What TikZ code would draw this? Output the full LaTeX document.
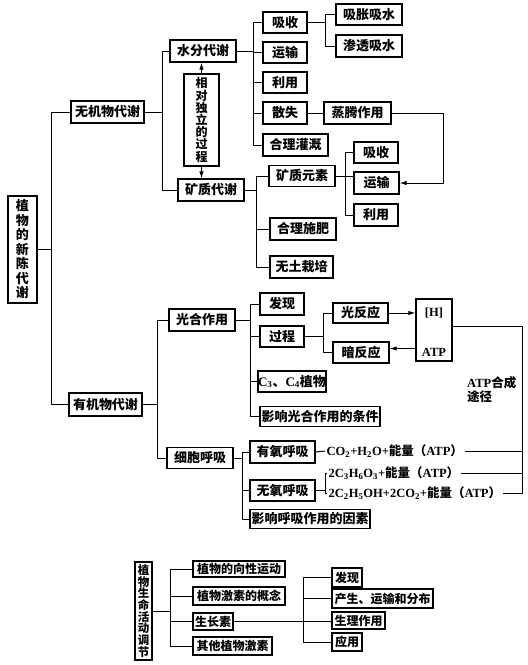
\documentclass[tikz,border=0pt]{standalone}
\usepackage{fontspec}
\setmainfont{Noto Sans CJK SC}
\newfontfamily\latin{Liberation Serif}
\usetikzlibrary{arrows.meta, positioning, calc}

\begin{document}
\begin{tikzpicture}[
    x=1pt, y=-1pt,
    font=\fontsize{13}{14.5}\selectfont\bfseries,
    kuang/.style={draw, line width=1.2pt, inner sep=0pt, minimum height=22pt,
                  align=center, font=\fontsize{13}{14.5}\selectfont\bfseries},
    xiao/.style={kuang, minimum height=18pt, font=\fontsize{12}{13}\selectfont\bfseries},
    gongshi/.style={inner sep=1.5pt, anchor=west, font=\fontsize{12.5}{14}\selectfont\bfseries},
    xian/.style={line width=1pt},
    jiantou/.style={-{Latex[length=7pt,width=4.5pt]}, line width=1pt}
  ]
    \useasboundingbox (0,0) rectangle (528,665);

    % 新陈代谢
    \node[kuang, minimum width=29pt, minimum height=107pt] (xcdx) at (22.5,249.5) {植\\物\\的\\新\\陈\\代\\谢};
    \node[kuang, minimum width=73pt] (wuji) at (107.5,112) {无机物代谢};
    \node[kuang, minimum width=73pt, minimum height=23pt] (youji) at (105.5,404.5) {有机物代谢};

    % 无机物代谢
    \node[kuang, minimum width=66pt] (shuifen) at (203,51) {水分代谢};
    \node[kuang, minimum width=66pt] (kuangzhi) at (211,190) {矿质代谢};
    \node[kuang, minimum width=35pt, minimum height=92pt,
          font=\fontsize{12}{12.2}\selectfont\bfseries] (xiangdui) at (201.5,120) {相\\对\\独\\立\\的\\过\\程};
    \node[kuang, minimum width=44pt, minimum height=21pt] (xishou) at (285,22.5) {吸收};
    \node[kuang, minimum width=44pt, minimum height=21pt] (yunshu) at (285,52.5) {运输};
    \node[kuang, minimum width=44pt, minimum height=21pt] (liyong) at (285,82.5) {利用};
    \node[kuang, minimum width=44pt] (sanshi) at (285,113) {散失};
    \node[kuang, minimum width=65pt] (guangai) at (295.5,145) {合理灌溉};
    \node[kuang, minimum width=66pt, minimum height=21pt] (xizhang) at (369,14.5) {吸胀吸水};
    \node[kuang, minimum width=66pt] (shentou) at (369,46) {渗透吸水};
    \node[kuang, minimum width=67pt] (zhengteng) at (357.5,113) {蒸腾作用};
    \node[kuang, minimum width=66pt, minimum height=21pt] (kzys) at (302,176) {矿质元素};
    \node[kuang, minimum width=44pt, minimum height=21pt] (xishou2) at (376,152.5) {吸收};
    \node[kuang, minimum width=45pt] (yunshu2) at (376.5,183) {运输};
    \node[kuang, minimum width=44pt] (liyong2) at (376,215) {利用};
    \node[kuang, minimum width=66pt] (shifei) at (303,229) {合理施肥};
    \node[kuang, minimum width=63pt] (wutu) at (301.5,267) {无土栽培};

    \draw[xian] (xcdx.east) -- ++(14,0) |- (wuji.west);
    \draw[xian] (xcdx.east) -- ++(14,0) |- (youji.west);
    \draw[xian] (wuji.east) -- ++(18,0) |- (shuifen.west);
    \draw[xian] (wuji.east) -- ++(18,0) |- (kuangzhi.west);
    \draw[jiantou] (xiangdui.north) -- (xiangdui.north |- shuifen.south);
    \draw[jiantou] (xiangdui.south) -- (xiangdui.south |- kuangzhi.north);
    \foreach \anak in {xishou, yunshu, liyong, sanshi, guangai}
      \draw[xian] (shuifen.east) -- ++(17,0) |- (\anak.west);
    \draw[xian] (xishou.east) -- ++(18,0) |- (xizhang.west);
    \draw[xian] (xishou.east) -- ++(18,0) |- (shentou.west);
    \draw[xian] (sanshi.east) -- (zhengteng.west);
    \foreach \anak in {kzys, shifei, wutu}
      \draw[xian] (kuangzhi.east) -- ++(12,0) |- (\anak.west);
    \draw[xian] (kzys.east) -- (kzys.east -| yunshu2.west);
    \draw[xian] (xishou2.west) -- ++(-8,0) |- (liyong2.west);
    \draw[jiantou] (zhengteng.east) -- ++(52,0) |- (yunshu2.east);

    % 有机物代谢
    \node[kuang, minimum width=66pt] (guanghe) at (202,320) {光合作用};
    \node[kuang, minimum width=66pt, minimum height=21pt] (xibao) at (200,458) {细胞呼吸};
    \node[kuang, minimum width=44pt] (faxian) at (282,304) {发现};
    \node[kuang, minimum width=44pt, minimum height=21pt] (guocheng) at (282,336.5) {过程};
    \node[kuang, minimum width=64pt, minimum height=21pt] (c3c4) at (292,381.5)
      {{\latin C\textsubscript{3}}、{\latin C\textsubscript{4}}植物};
    \node[kuang, minimum width=120pt, minimum height=20pt] (tiaojian) at (320,416.5) {影响光合作用的条件};
    \node[kuang, minimum width=55pt, minimum height=20pt] (guangfy) at (360.5,313) {光反应};
    \node[kuang, minimum width=56pt, minimum height=21pt] (anfy) at (361,352.5) {暗反应};
    \node[kuang, minimum width=36pt, minimum height=62pt] (hatp) at (434,330) {};
    \node[font=\fontsize{12.5}{14}\selectfont\bfseries\latin] (hh) at (434,313) {[H]};
    \node[font=\fontsize{12.5}{14}\selectfont\bfseries\latin] (atp) at (434,352) {ATP};
    \node[kuang, minimum width=65pt] (youyang) at (282.5,452) {有氧呼吸};
    \node[kuang, minimum width=65pt, minimum height=21pt] (wuyang) at (282.5,490.5) {无氧呼吸};
    \node[kuang, minimum width=120pt, minimum height=19pt] (yinsu) at (310,519) {影响呼吸作用的因素};
    \node[gongshi] (eq1) at (325,451)
      {{\latin CO\textsubscript{2}+H\textsubscript{2}O+}能量（{\latin ATP}）};
    \node[gongshi] (eq2) at (327,473)
      {{\latin 2C\textsubscript{3}H\textsubscript{6}O\textsubscript{3}+}能量（{\latin ATP}）};
    \node[gongshi] (eq3) at (327,493)
      {{\latin 2C\textsubscript{2}H\textsubscript{5}OH+2CO\textsubscript{2}+}能量（{\latin ATP}）};
    \node[align=left, anchor=west, inner sep=0pt,
          font=\fontsize{12.5}{14}\selectfont\bfseries] (tujing) at (467,390) {{\latin ATP}合成\\途径};
    \coordinate (ujung) at (522,493);

    \draw[xian] (youji.east) -- ++(15,0) |- (guanghe.west);
    \draw[xian] (youji.east) -- ++(15,0) |- (xibao.west);
    \foreach \anak in {faxian, guocheng, c3c4, tiaojian}
      \draw[xian] (guanghe.east) -- ++(15,0) |- (\anak.west);
    \draw[xian] (guocheng.east) -- ++(19,0) |- (guangfy.west);
    \draw[xian] (guocheng.east) -- ++(19,0) |- (anfy.west);
    \draw[jiantou] (guangfy.east) -- (guangfy.east -| hatp.west);
    \draw[jiantou] ([yshift=4pt]hatp.west |- anfy.east) -- ([yshift=4pt]anfy.east);
    \foreach \anak in {youyang, wuyang, yinsu}
      \draw[xian] (xibao.east) -- ++(9,0) |- (\anak.west);
    \draw[xian] (youyang.east) -- (eq1.west);
    \draw[xian] (wuyang.east) -- ++(10,0) |- (eq2.west);
    \draw[xian] (wuyang.east) -- ++(10,0) |- (eq3.west);
    \draw[xian] ([yshift=4pt]hatp.east) -| (ujung) -- (eq3.east);
    \draw[xian] (eq1.east) -- (eq1.east -| ujung);
    \draw[xian] (eq2.east) -- (eq2.east -| ujung);

    % 生命活动调节
    \node[kuang, minimum width=17pt, minimum height=98pt,
          font=\fontsize{11.5}{11.7}\selectfont\bfseries] (tiaojie) at (143.5,611) {植\\物\\生\\命\\活\\动\\调\\节};
    \node[xiao, minimum width=92pt, minimum height=16pt] (xiangxing) at (239,569) {植物的向性运动};
    \node[xiao, minimum width=92pt] (gainian) at (239,596) {植物激素的概念};
    \node[xiao, minimum width=40pt, minimum height=17pt] (szs) at (213,621.5) {生长素};
    \node[xiao, minimum width=79pt] (qita) at (232.5,646) {其他植物激素};
    \node[xiao, minimum width=30pt, minimum height=19pt] (faxian2) at (347,577.5) {发现};
    \node[xiao, minimum width=101pt, minimum height=19pt] (chansheng) at (382.5,598.5) {产生、运输和分布};
    \node[xiao, minimum width=53pt, minimum height=17pt] (shengli) at (358.5,620.5) {生理作用};
    \node[xiao, minimum width=30pt] (yingyong) at (347,642) {应用};

    \foreach \anak in {xiangxing, gainian, szs, qita}
      \draw[xian] (tiaojie.east) -- ++(18,0) |- (\anak.west);
    \draw[xian] (szs.east) -- (szs.east -| shengli.west);
    \foreach \anak in {faxian2, chansheng, yingyong}
      \draw[xian] (szs.east) -- ++(70,0) |- (\anak.west);
  \end{tikzpicture}
\end{document}
